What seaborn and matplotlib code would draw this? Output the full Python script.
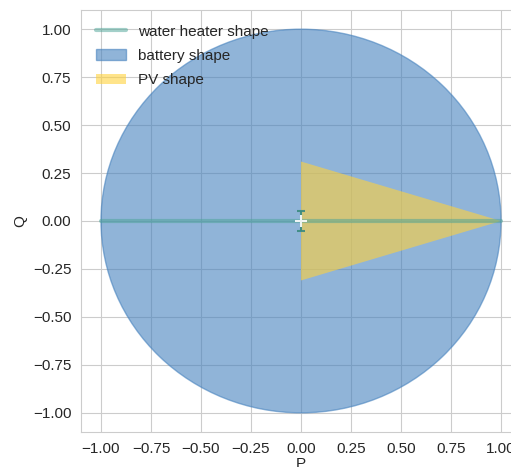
import numpy as np
import pandas as pd
import seaborn as sns
import matplotlib
matplotlib.use("Agg")
import matplotlib.pyplot as plt
from matplotlib.patches import Circle, Polygon

# data
wh_P = [-1.0, 1.0]
wh_Q = [0.0, 0.0]
wh_point_P = [0.0]
wh_point_Q = [0.0]
wh_point_err = [0.05]
battery_radius = 1.0
pv_P = [0.0, 1.0, 0.0]
pv_Q = [0.31, 0.0, -0.31]
ticks = [-1.00, -0.75, -0.50, -0.25, 0.00, 0.25, 0.50, 0.75, 1.00]

sns.set_style("whitegrid")
plt.rcParams['font.family'] = ['Liberation Sans', 'DejaVu Sans']

fig = plt.figure(figsize=(5.11, 4.67), dpi=100)
ax = fig.add_axes([81/511, 35/467, 440/511, 422/467])

batt = Circle((0, 0), battery_radius, facecolor="#4682BE", alpha=0.6,
              edgecolor="#4682BE", linewidth=1, label="battery shape", zorder=2)
ax.add_patch(batt)
pv = Polygon(np.column_stack([pv_P, pv_Q]), closed=True, facecolor="#FFD23C",
             alpha=0.6, edgecolor="none", label="PV shape", zorder=3)
ax.add_patch(pv)

df = pd.DataFrame({"P": wh_P, "Q": wh_Q})
sns.lineplot(data=df, x="P", y="Q", ax=ax, color="#4AA396", alpha=0.5,
             linewidth=3, label="water heater shape", zorder=4)
ax.errorbar(wh_point_P, wh_point_Q, yerr=wh_point_err, fmt="+", color="#4A9A90",
            ecolor="#3A8A80", mec="white", ms=9, mew=1.5, capsize=3, elinewidth=1.5,
            alpha=0.9, zorder=5)

ax.set_xlim(-1.1, 1.1)
ax.set_ylim(-1.1, 1.1)
ax.set_xticks(ticks)
ax.set_yticks(ticks)
ax.set_xlabel("P", fontsize=11, labelpad=1)
ax.set_ylabel("Q", fontsize=11)
ax.tick_params(labelsize=11)
handles, labels = ax.get_legend_handles_labels()
order = [labels.index(l) for l in ["water heater shape", "battery shape", "PV shape"]]
ax.legend([handles[i] for i in order], [labels[i] for i in order], loc="upper left",
          frameon=False, fontsize=11, borderaxespad=0.55, labelspacing=0.68)
fig.savefig("out.png", dpi=100)
